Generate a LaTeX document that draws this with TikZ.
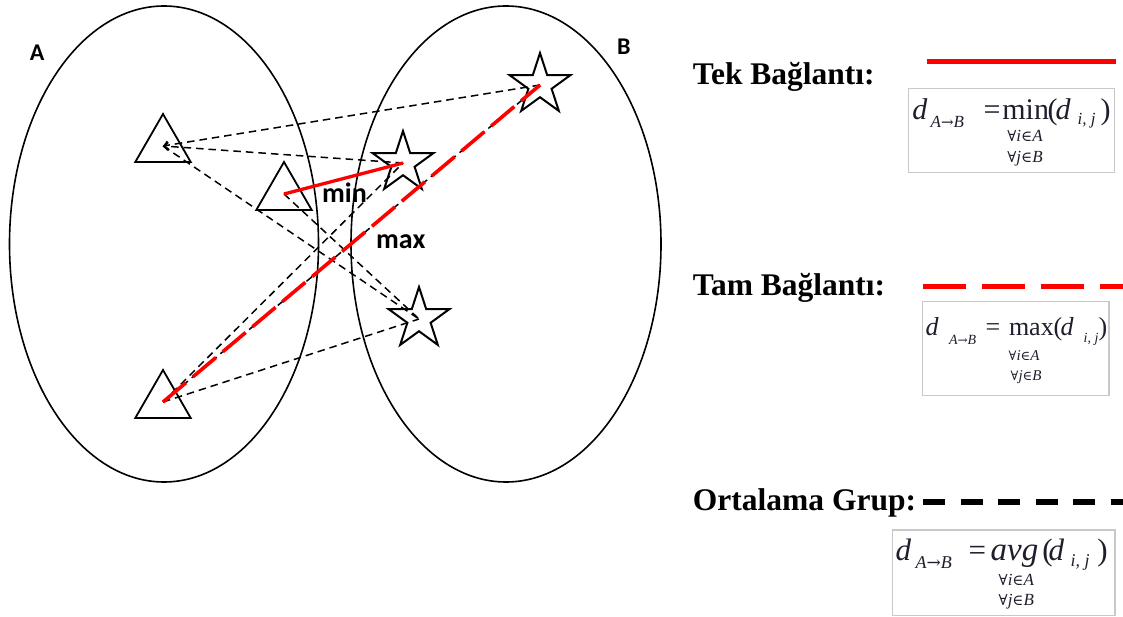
\documentclass[tikz,border=0pt]{standalone}
\usepackage{fontspec}
\setmainfont{Liberation Serif}
\newfontfamily\calfont{Carlito}
\newfontfamily\symf{DejaVu Serif}
\usetikzlibrary{shapes.geometric,arrows.meta}
\definecolor{fmlc}{RGB}{30,30,45}
\definecolor{boxgray}{RGB}{200,200,200}
\newcommand\fsz[1]{\fontsize{#1}{#1}\selectfont}
\newcommand\putat[2]{\rlap{\hspace*{#1pt}#2}}
\begin{document}
\begin{tikzpicture}[x=1pt,y=-1pt,
  setell/.style={draw, ellipse, line width=1.6pt, minimum width=309pt, minimum height=476pt, inner sep=0pt},
  starshape/.style={draw, star, star points=5, star point ratio=2.618, minimum size=64pt, inner sep=0pt, line width=2pt},
  trishape/.style={draw, regular polygon, regular polygon sides=3, minimum size=64pt, inner sep=0pt, line width=1.8pt},
  avgln/.style={black, line width=1.5pt, dash pattern=on 7.5pt off 5pt},
  tipped/.style={-{Straight Barb[length=4pt,width=8pt]}},
  minln/.style={red, line width=3.3pt},
  maxln/.style={red, line width=3.6pt, dash pattern=on 30pt off 9pt},
  lbl/.style={font=\calfont\bfseries\fsz{28}, anchor=base west, inner sep=0pt},
  legtext/.style={font=\bfseries\fsz{31.5}, anchor=base west, inner sep=0pt},
  fboxst/.style={draw=boxgray, line width=1.5pt},
  fml/.style={anchor=base west, inner sep=0pt, text=fmlc},
]
\useasboundingbox (0,0) rectangle (1123,617);

% sets
\node[setell] (A) at (164,244) {};
\node[setell, minimum width=310pt] (B) at (506,244) {};
\node[lbl, font=\calfont\bfseries\fsz{24}] (labA) at (29.6,60.7) {A};
\node[lbl, font=\calfont\bfseries\fsz{24}] (labB) at (617,55) {B};

% points
\node[trishape] (t1) at (163,146) {};
\node[trishape] (t2) at (284,194) {};
\node[trishape] (t3) at (163,402) {};
\node[starshape] (s1) at (540,85) {};
\node[starshape] (s2) at (403,163) {};
\node[starshape] (s3) at (419,319) {};

% average linkage lines
\draw[avgln, tipped] (s1.center) -- (t1.center);
\draw[avgln, tipped] (s2.center) -- (t1.center);
\draw[avgln] (t1.center) -- (s3.center);
\draw[avgln] (t2.center) -- (s2.center);
\draw[avgln] (t2.center) -- (s3.center);
\draw[avgln] (t3.center) -- (s1.center);
\draw[avgln] (t3.center) -- (s2.center);
\draw[avgln] (t3.center) -- (s3.center);

% single and complete linkage
\draw[minln] (t2.center) -- (s2.center);
\draw[maxln] (t3.center) -- (s1.center);

\node[lbl] (labmin) at (322,203) {min};
\node[lbl] (labmax) at (376,249) {max};

% legend: single linkage
\node[legtext] (tek) at (692.7,85) {Tek Bağlantı:};
\coordinate (tekL) at (926.7,61.8);
\coordinate (tekR) at (1116,61.8);
\draw[red, line width=5pt] (tekL) -- (tekR);
\draw[fboxst] (908.3,88.3) rectangle (1114.3,172.3);
\node[fml] (f1) at (911.7,120) {%
\putat{0}{\fsz{30}\itshape d}%
\putat{18.3}{\raisebox{-8pt}{\fsz{17}\itshape A{\symf\fsz{15}→}B}}%
\putat{71.3}{\fsz{30}=}%
\putat{90}{\fsz{30}min}%
\putat{135.3}{\fsz{30}(}%
\putat{143.3}{\fsz{30}\itshape d}%
\putat{165.3}{\raisebox{-5pt}{\fsz{17}\itshape i, j}}%
\putat{188.3}{\fsz{30})}%
\putat{95}{\raisebox{-21.7pt}{\fsz{17}{\symf\fsz{15}∀}\itshape i{\symf\fsz{15}∈}A}}%
\putat{95}{\raisebox{-43pt}{\fsz{17}{\symf\fsz{15}∀}\itshape j{\symf\fsz{15}∈}B}}%
};

% legend: complete linkage
\node[legtext] (tam) at (692.7,295) {Tam Bağlantı:};
\coordinate (tamL) at (922.7,286.7);
\coordinate (tamR) at (1123,286.7);
\draw[red, line width=5.3pt, dash pattern=on 43pt off 16pt] (tamL) -- (tamR);
\draw[fboxst] (922.3,301.7) rectangle (1109,395.7);
\node[fml] (f2) at (925,335) {%
\putat{0}{\fsz{26}\itshape d}%
\putat{23.3}{\raisebox{-9pt}{\fsz{14}\itshape A{\symf\fsz{12}→}B}}%
\putat{60}{\fsz{26}=}%
\putat{83.3}{\fsz{26}max}%
\putat{128}{\fsz{26}(}%
\putat{135}{\fsz{26}\itshape d}%
\putat{158}{\raisebox{-7pt}{\fsz{14}\itshape i, j}}%
\putat{173}{\fsz{26})}%
\putat{83}{\raisebox{-25pt}{\fsz{15}{\symf\fsz{13}∀}\itshape i{\symf\fsz{13}∈}A}}%
\putat{85}{\raisebox{-45pt}{\fsz{15}{\symf\fsz{13}∀}\itshape j{\symf\fsz{13}∈}B}}%
};

% legend: average linkage
\node[legtext] (ort) at (692.7,510) {Ortalama Grup:};
\coordinate (ortL) at (923,502.2);
\coordinate (ortR) at (1123,502.2);
\draw[black, line width=5.7pt, dash pattern=on 22pt off 15.5pt] (ortL) -- (ortR);
\draw[fboxst] (892.3,530) rectangle (1115,615.7);
\node[fml] (f3) at (895,560) {%
\putat{0}{\fsz{31}\itshape d}%
\putat{20}{\raisebox{-8pt}{\fsz{18}\itshape A{\symf\fsz{17}→}B}}%
\putat{73}{\fsz{31}=}%
\putat{95}{\fsz{33}\itshape avg}%
\putat{146.7}{\fsz{31}(}%
\putat{153}{\fsz{31}\itshape d}%
\putat{175}{\raisebox{-6.7pt}{\fsz{18}\itshape i, j}}%
\putat{201.7}{\fsz{31})}%
\putat{103}{\raisebox{-25pt}{\fsz{17}{\symf\fsz{15}∀}\itshape i{\symf\fsz{15}∈}A}}%
\putat{103}{\raisebox{-45pt}{\fsz{17}{\symf\fsz{15}∀}\itshape j{\symf\fsz{15}∈}B}}%
};
\end{tikzpicture}
\end{document}
